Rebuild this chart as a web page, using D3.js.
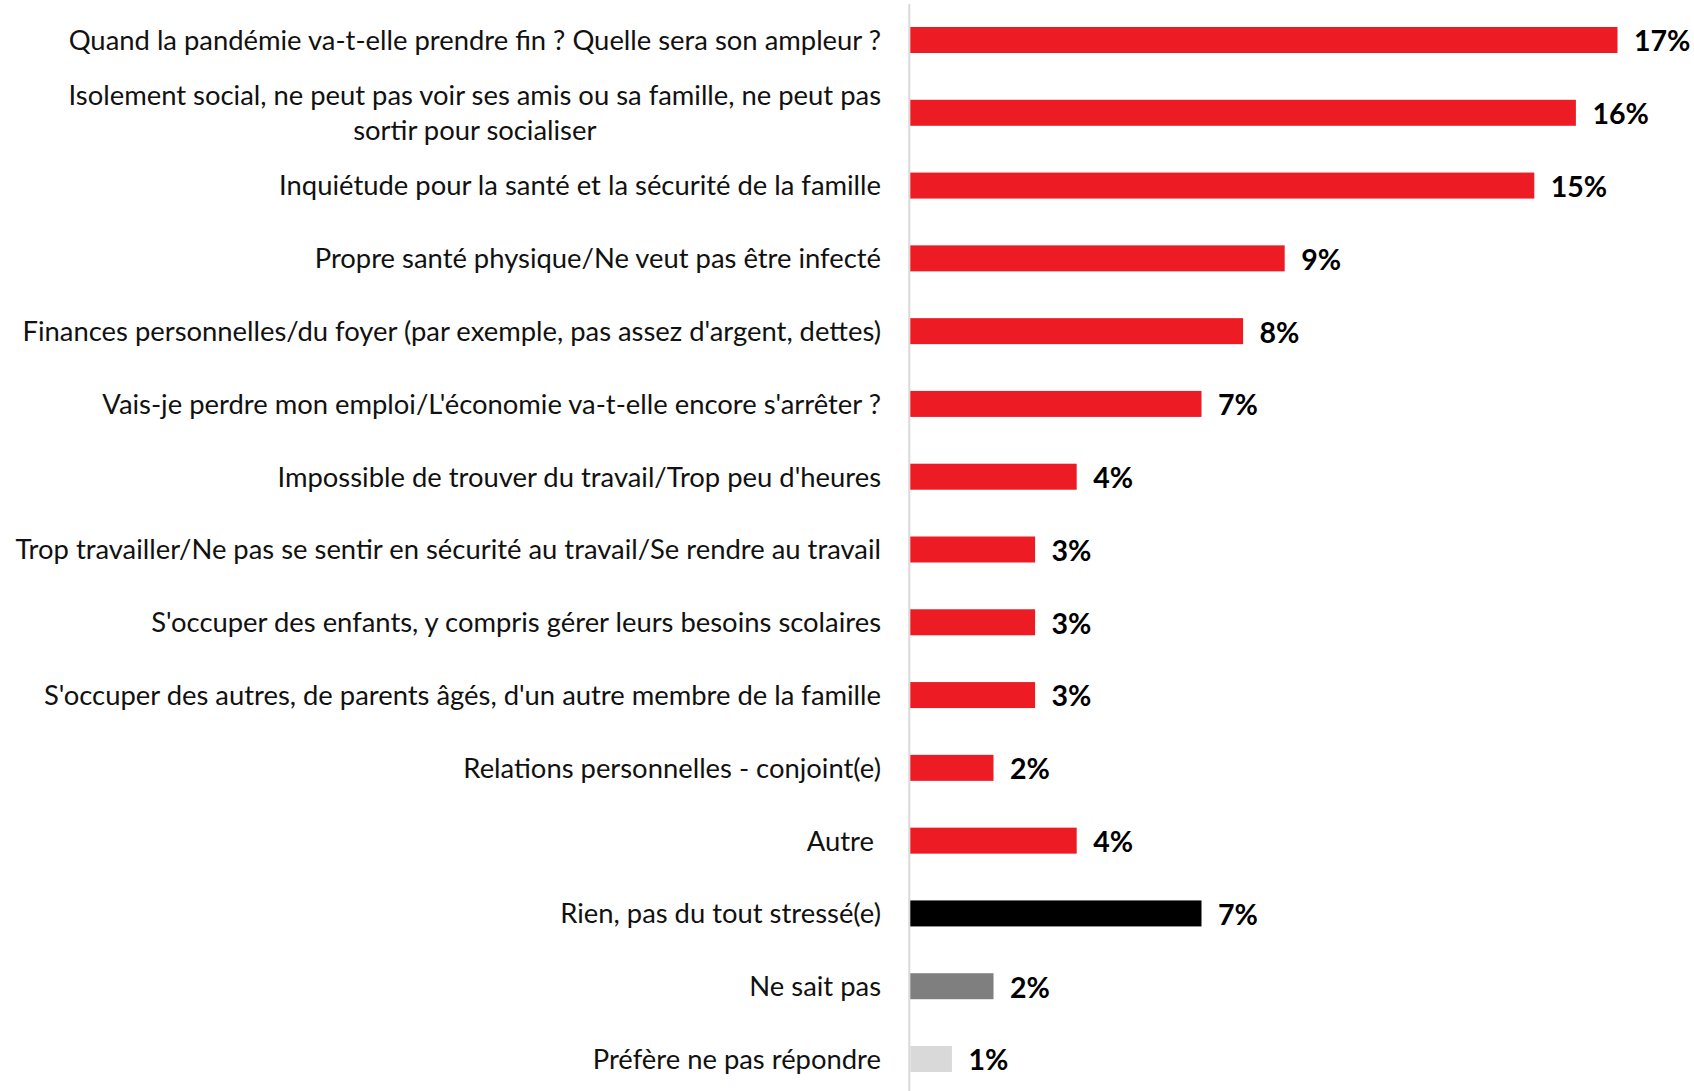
<!DOCTYPE html>
<html>
<head>
<meta charset="utf-8">
<script src="https://cdn.jsdelivr.net/npm/d3@7"></script>
<style>
  html, body { margin: 0; padding: 0; background: #ffffff; }
  svg { display: block; }
</style>
</head>
<body>
<svg id="chart" width="1694" height="1091"></svg>
<script>
// ---- data ----
const categories = [
  "Quand la pandémie va-t-elle prendre fin ? Quelle sera son ampleur ?",
  "Isolement social, ne peut pas voir ses amis ou sa famille, ne peut pas|sortir pour socialiser",
  "Inquiétude pour la santé et la sécurité de la famille",
  "Propre santé physique/Ne veut pas être infecté",
  "Finances personnelles/du foyer (par exemple, pas assez d'argent, dettes)",
  "Vais-je perdre mon emploi/L'économie va-t-elle encore s'arrêter ?",
  "Impossible de trouver du travail/Trop peu d'heures",
  "Trop travailler/Ne pas se sentir en sécurité au travail/Se rendre au travail",
  "S'occuper des enfants, y compris gérer leurs besoins scolaires",
  "S'occuper des autres, de parents âgés, d'un autre membre de la famille",
  "Relations personnelles - conjoint(e)",
  "Autre ",
  "Rien, pas du tout stressé(e)",
  "Ne sait pas",
  "Préfère ne pas répondre"
];
const values = [17, 16, 15, 9, 8, 7, 4, 3, 3, 3, 2, 4, 7, 2, 1];
const groups = ["stress","stress","stress","stress","stress","stress","stress","stress",
                "stress","stress","stress","stress","rien","nsp","refus"];
const valueLabels = values.map(v => v + "%");

// ---- styles ----
const groupColors = { stress: "#ED1C24", rien: "#000000", nsp: "#7F7F7F", refus: "#D9D9D9" };
const labelFont = "Lato, 'Liberation Sans', sans-serif";

const svg = d3.select("#chart");

const x = d3.scaleLinear().domain([0, 17]).range([910.3, 1617.5]);
const y = d3.scalePoint().domain(d3.range(categories.length)).range([40, 1059]);
const barH = 26;

// axis line
svg.append("line")
  .attr("x1", 909.3).attr("x2", 909.3)
  .attr("y1", 4).attr("y2", 1091)
  .attr("stroke", "#d9d9d9").attr("stroke-width", 2);

// bars
svg.append("g").selectAll("rect")
  .data(values)
  .join("rect")
  .attr("x", x(0))
  .attr("y", (d, i) => y(i) - barH / 2)
  .attr("width", d => x(d) - x(0))
  .attr("height", barH)
  .attr("fill", (d, i) => groupColors[groups[i]]);

// value labels
svg.append("g").selectAll("text")
  .data(values)
  .join("text")
  .attr("x", d => x(d) + 16.5)
  .attr("y", (d, i) => y(i))
  .attr("dy", "0.4em")
  .attr("font-family", labelFont)
  .attr("font-weight", "bold")
  .attr("font-size", 28.5)
  .attr("fill", "#000")
  .text((d, i) => valueLabels[i]);

// category labels
const labelRight = 881;
const catG = svg.append("g");
categories.forEach((c, i) => {
  const lines = c.split("|");
  const lineH = 34.6;
  const t = catG.append("text")
    .attr("font-family", labelFont)
    .attr("font-size", 27.4)
    .attr("fill", "#111")
    .style("white-space", "pre");
  if (lines.length === 1) {
    t.attr("x", labelRight).attr("y", y(i)).attr("dy", "0.36em")
     .attr("text-anchor", "end").text(lines[0]);
  } else {
    const probe = t.append("tspan").text(lines[0]);
    const w = probe.node().getComputedTextLength();
    probe.remove();
    const cx = labelRight - w / 2;
    const y0 = y(i) - (lines.length - 1) * lineH / 2;
    lines.forEach((ln, k) => {
      t.append("tspan")
        .attr("x", cx).attr("y", y0 + k * lineH).attr("dy", "0.36em")
        .attr("text-anchor", "middle")
        .text(ln);
    });
  }
});
</script>
</body>
</html>
